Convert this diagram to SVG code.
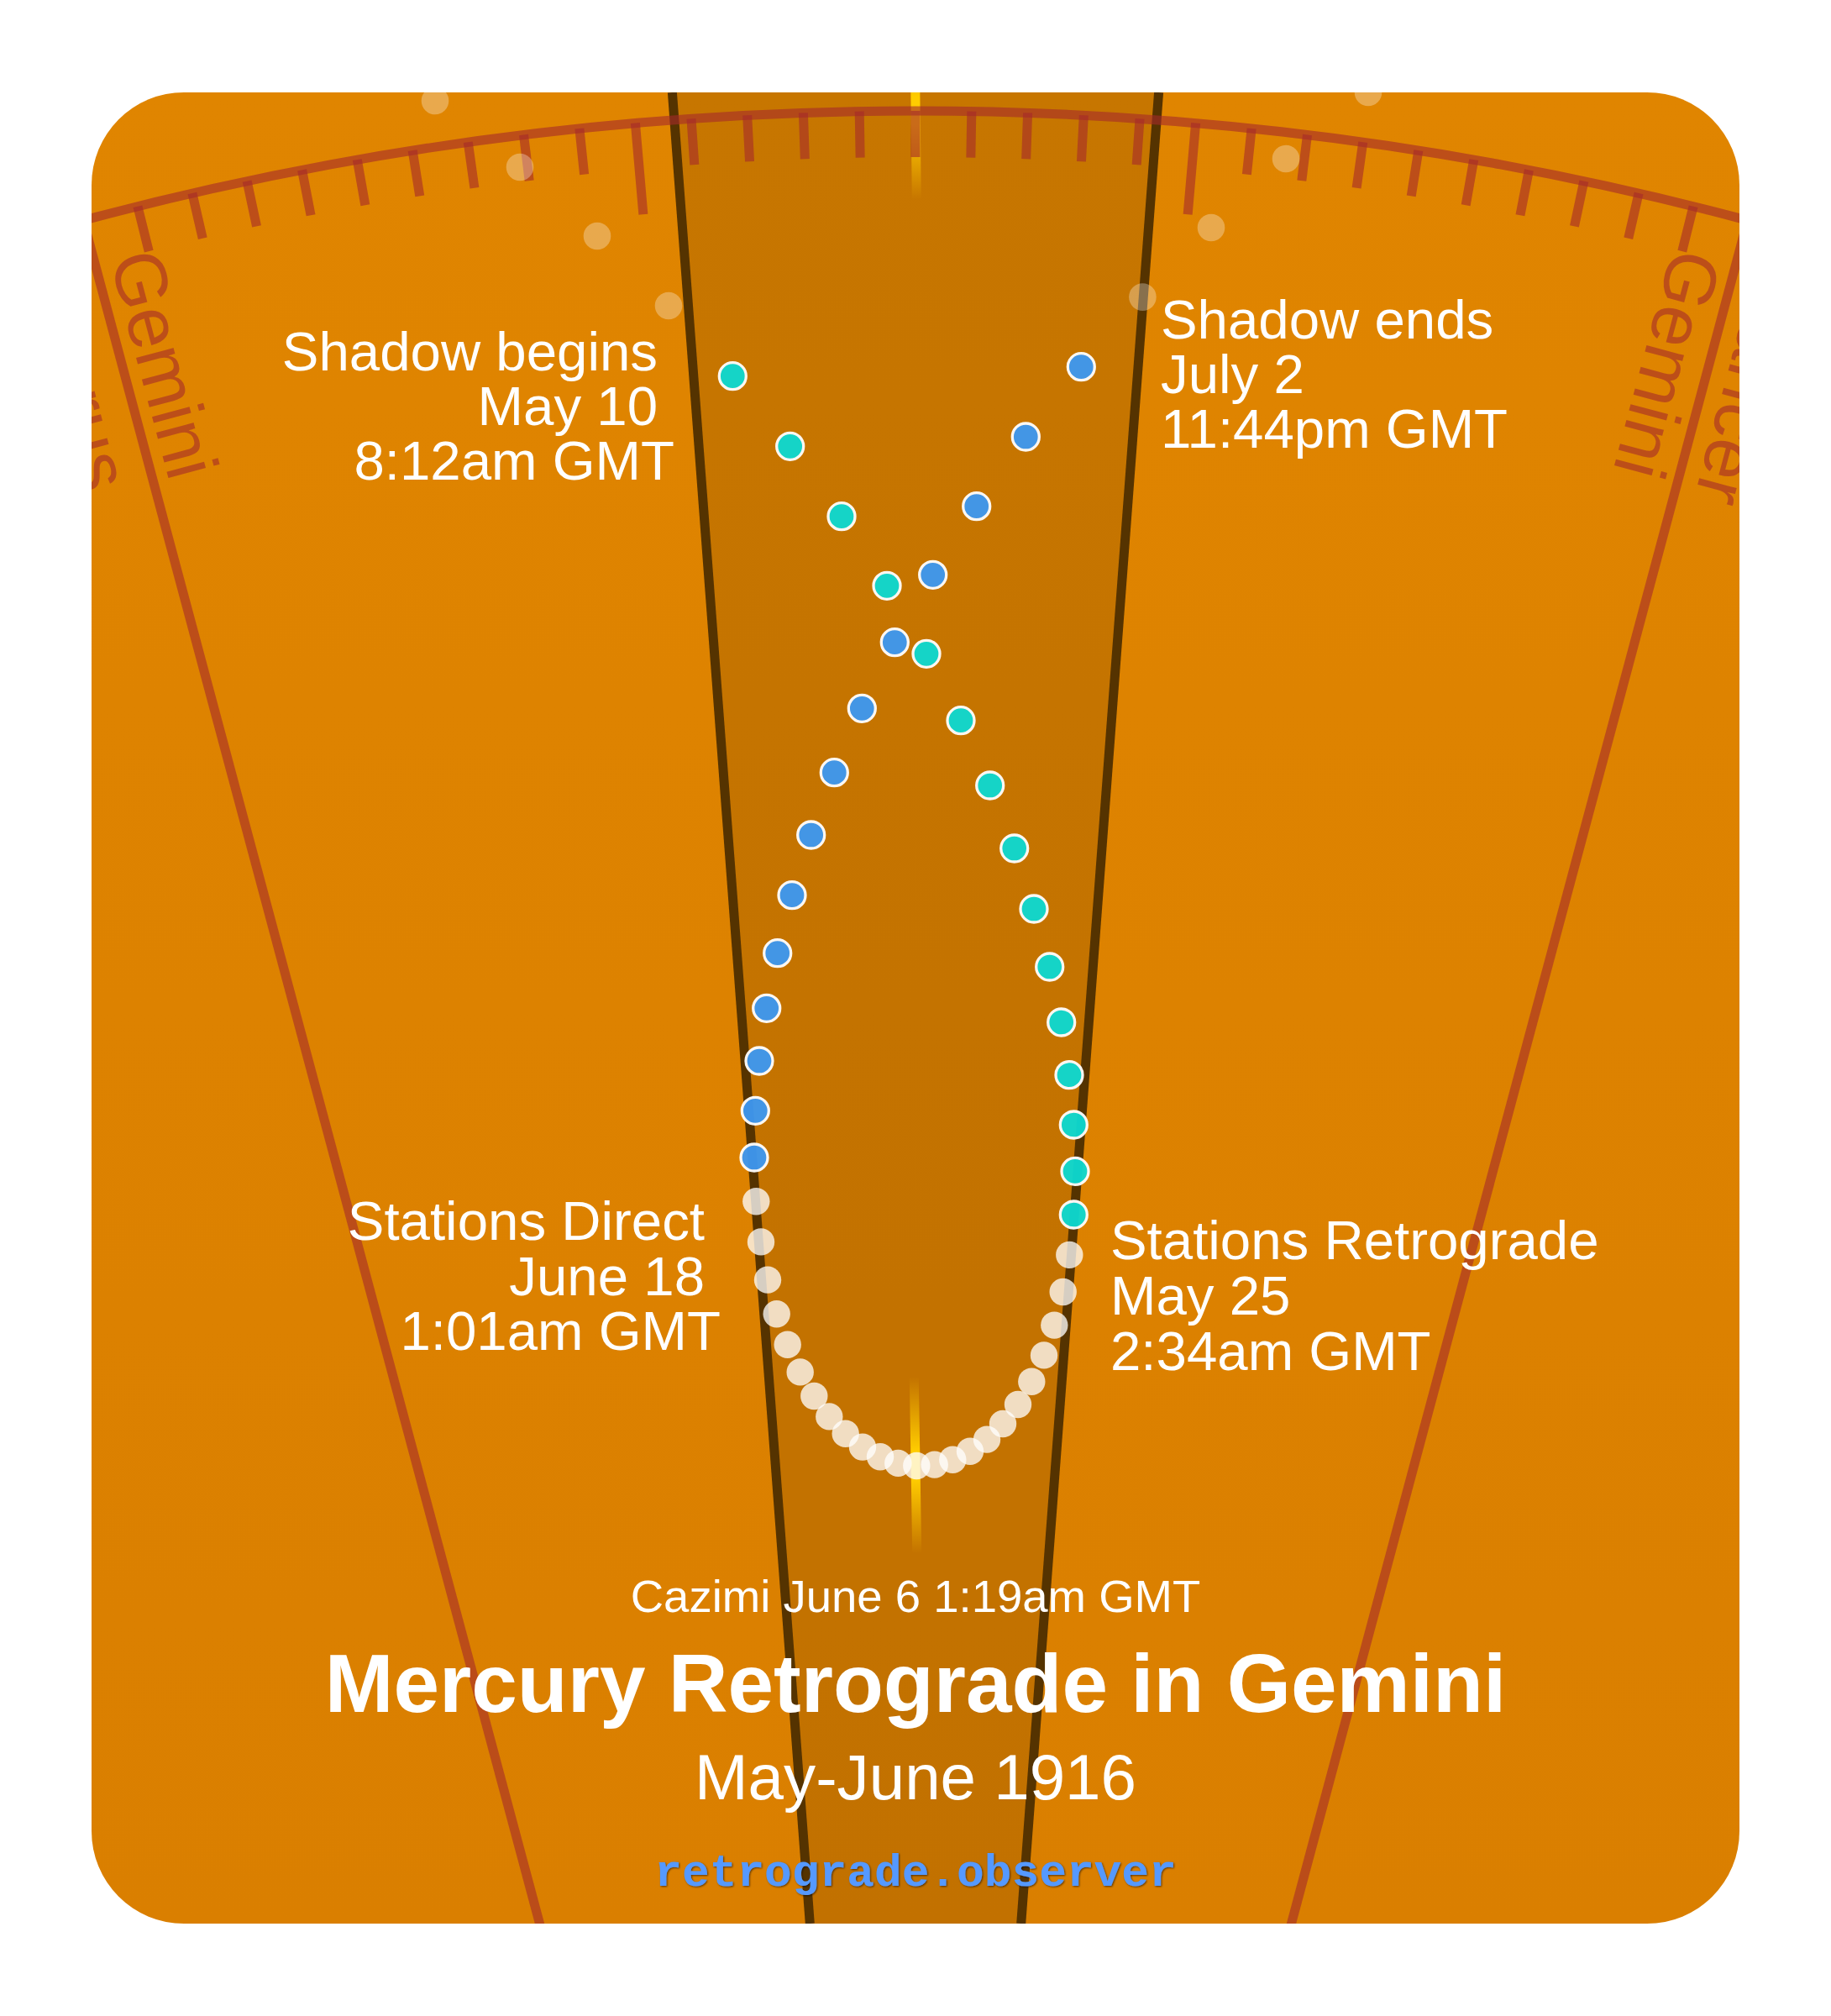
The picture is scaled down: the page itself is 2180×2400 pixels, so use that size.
<svg xmlns="http://www.w3.org/2000/svg" width="2180" height="2400" viewBox="0 0 2180 2400">
<style>
.tick{stroke:#a52a2a;stroke-opacity:.6;stroke-width:11;fill:none}
.ray{stroke:#a52a2a;stroke-opacity:.6;stroke-width:11;fill:none}
.shadow{stroke:#553300;stroke-width:11;fill:none}
.sign{font-family:"Liberation Sans",Arial,sans-serif;font-size:87.2px;fill:#a52a2a;fill-opacity:.6}
.star{fill:#fff;fill-opacity:.3}
.pale{fill:#fff;fill-opacity:.76}
.pre{fill:#0cdad2;stroke:#fff;stroke-width:3.3;opacity:.95}
.post{fill:#3d98f2;stroke:#fff;stroke-width:3.3;opacity:.95}
.lab{font-family:"Liberation Sans",Arial,sans-serif;font-size:65.4px;fill:#fff}
.mid{font-family:"Liberation Sans",Arial,sans-serif;fill:#fff;text-anchor:middle}
.end{text-anchor:end}
</style>
<defs>
<clipPath id="card"><rect x="109" y="110" width="1962" height="2180" rx="110" ry="110"/></clipPath>
<linearGradient id="bg" gradientUnits="userSpaceOnUse" x1="0" y1="110" x2="0" y2="2290">
<stop offset="0" stop-color="#e08500"/><stop offset="1" stop-color="#da7f00"/>
</linearGradient>
<linearGradient id="gTop" gradientUnits="userSpaceOnUse" x1="0" y1="27" x2="0" y2="237">
<stop offset="0" stop-color="#ffcc00" stop-opacity="0"/><stop offset=".42" stop-color="#ffcc00"/><stop offset=".58" stop-color="#ffcc00"/><stop offset="1" stop-color="#ffcc00" stop-opacity="0"/>
</linearGradient>
<linearGradient id="gBot" gradientUnits="userSpaceOnUse" x1="0" y1="1639" x2="0" y2="1849">
<stop offset="0" stop-color="#ffcc00" stop-opacity="0"/><stop offset=".42" stop-color="#ffcc00"/><stop offset=".58" stop-color="#ffcc00"/><stop offset="1" stop-color="#ffcc00" stop-opacity="0"/>
</linearGradient>
<filter id="ds" x="-5%" y="-20%" width="110%" height="140%"><feDropShadow dx="1" dy="1" stdDeviation="1" flood-color="#000" flood-opacity=".6"/></filter>
</defs>
<g clip-path="url(#card)">
<rect x="109" y="110" width="1962" height="2180" fill="url(#bg)"/>
<polygon points="800.4,110 1379.6,110 1215.7,2290 964.3,2290" fill="#000" fill-opacity=".11"/>
<line x1="1088.9" y1="27" x2="1091.3" y2="237" stroke="url(#gTop)" stroke-width="11"/>
<line x1="1088.3" y1="1639" x2="1091.7" y2="1849" stroke="url(#gBot)" stroke-width="11"/>
<g id="shadow-lines">
<line class="shadow" x1="800.4" y1="110" x2="964.3" y2="2290"/>
<line class="shadow" x1="1379.6" y1="110" x2="1215.7" y2="2290"/>
</g>
<circle class="tick" cx="1090" cy="3960" r="3828"/>
<g id="ticks">
<line class="ray" x1="1090" y1="132" x2="1090" y2="3960" transform="rotate(-15 1090 3960)"/>
<line class="ray" x1="1090" y1="132" x2="1090" y2="3960" transform="rotate(15 1090 3960)"/>
<line class="tick" x1="1090" y1="132" x2="1090" y2="187" transform="rotate(-14 1090 3960)"/>
<line class="tick" x1="1090" y1="132" x2="1090" y2="187" transform="rotate(-13 1090 3960)"/>
<line class="tick" x1="1090" y1="132" x2="1090" y2="187" transform="rotate(-12 1090 3960)"/>
<line class="tick" x1="1090" y1="132" x2="1090" y2="187" transform="rotate(-11 1090 3960)"/>
<line class="tick" x1="1090" y1="132" x2="1090" y2="187" transform="rotate(-10 1090 3960)"/>
<line class="tick" x1="1090" y1="132" x2="1090" y2="187" transform="rotate(-9 1090 3960)"/>
<line class="tick" x1="1090" y1="132" x2="1090" y2="187" transform="rotate(-8 1090 3960)"/>
<line class="tick" x1="1090" y1="132" x2="1090" y2="187" transform="rotate(-7 1090 3960)"/>
<line class="tick" x1="1090" y1="132" x2="1090" y2="187" transform="rotate(-6 1090 3960)"/>
<line class="tick" x1="1090" y1="132" x2="1090" y2="241" transform="rotate(-5 1090 3960)"/>
<line class="tick" x1="1090" y1="132" x2="1090" y2="187" transform="rotate(-4 1090 3960)"/>
<line class="tick" x1="1090" y1="132" x2="1090" y2="187" transform="rotate(-3 1090 3960)"/>
<line class="tick" x1="1090" y1="132" x2="1090" y2="187" transform="rotate(-2 1090 3960)"/>
<line class="tick" x1="1090" y1="132" x2="1090" y2="187" transform="rotate(-1 1090 3960)"/>
<line class="tick" x1="1090" y1="132" x2="1090" y2="187"/>
<line class="tick" x1="1090" y1="132" x2="1090" y2="187" transform="rotate(1 1090 3960)"/>
<line class="tick" x1="1090" y1="132" x2="1090" y2="187" transform="rotate(2 1090 3960)"/>
<line class="tick" x1="1090" y1="132" x2="1090" y2="187" transform="rotate(3 1090 3960)"/>
<line class="tick" x1="1090" y1="132" x2="1090" y2="187" transform="rotate(4 1090 3960)"/>
<line class="tick" x1="1090" y1="132" x2="1090" y2="241" transform="rotate(5 1090 3960)"/>
<line class="tick" x1="1090" y1="132" x2="1090" y2="187" transform="rotate(6 1090 3960)"/>
<line class="tick" x1="1090" y1="132" x2="1090" y2="187" transform="rotate(7 1090 3960)"/>
<line class="tick" x1="1090" y1="132" x2="1090" y2="187" transform="rotate(8 1090 3960)"/>
<line class="tick" x1="1090" y1="132" x2="1090" y2="187" transform="rotate(9 1090 3960)"/>
<line class="tick" x1="1090" y1="132" x2="1090" y2="187" transform="rotate(10 1090 3960)"/>
<line class="tick" x1="1090" y1="132" x2="1090" y2="187" transform="rotate(11 1090 3960)"/>
<line class="tick" x1="1090" y1="132" x2="1090" y2="187" transform="rotate(12 1090 3960)"/>
<line class="tick" x1="1090" y1="132" x2="1090" y2="187" transform="rotate(13 1090 3960)"/>
<line class="tick" x1="1090" y1="132" x2="1090" y2="187" transform="rotate(14 1090 3960)"/>
</g>
<g id="signs">
<text class="sign" transform="translate(30 336) rotate(75)">Taurus</text>
<text class="sign" transform="translate(130.5 308) rotate(75)">Gemini</text>
<text class="sign" transform="translate(1992 293) rotate(105)">Gemini</text>
<text class="sign" transform="translate(2090 320) rotate(105)">Cancer</text>
</g>
<g id="stars">
<circle class="star" cx="518" cy="120" r="16.3"/>
<circle class="star" cx="619" cy="199" r="16.3"/>
<circle class="star" cx="711" cy="281" r="16.3"/>
<circle class="star" cx="796" cy="364" r="16.3"/>
<circle class="star" cx="1360.4" cy="353.6" r="16.3"/>
<circle class="star" cx="1442" cy="271" r="16.3"/>
<circle class="star" cx="1531" cy="189" r="16.3"/>
<circle class="star" cx="1629" cy="110" r="16.3"/>
</g>
<g id="pale-dots">
<circle class="pale" cx="900.3" cy="1430.2" r="16.2"/>
<circle class="pale" cx="906" cy="1478.4" r="16.2"/>
<circle class="pale" cx="914" cy="1523.6" r="16.2"/>
<circle class="pale" cx="924.7" cy="1564.2" r="16.2"/>
<circle class="pale" cx="937.7" cy="1600.7" r="16.2"/>
<circle class="pale" cx="952.7" cy="1633.4" r="16.2"/>
<circle class="pale" cx="969.3" cy="1662" r="16.2"/>
<circle class="pale" cx="987.3" cy="1686.4" r="16.2"/>
<circle class="pale" cx="1006.7" cy="1706.8" r="16.2"/>
<circle class="pale" cx="1027" cy="1722.6" r="16.2"/>
<circle class="pale" cx="1048" cy="1734.3" r="16.2"/>
<circle class="pale" cx="1069.3" cy="1741.9" r="16.2"/>
<circle class="pale" cx="1091.3" cy="1745" r="16.2"/>
<circle class="pale" cx="1112.7" cy="1743.6" r="16.2"/>
<circle class="pale" cx="1134.3" cy="1737.7" r="16.2"/>
<circle class="pale" cx="1155" cy="1727.8" r="16.2"/>
<circle class="pale" cx="1175" cy="1713.6" r="16.2"/>
<circle class="pale" cx="1194" cy="1695" r="16.2"/>
<circle class="pale" cx="1212" cy="1672" r="16.2"/>
<circle class="pale" cx="1228.3" cy="1644.8" r="16.2"/>
<circle class="pale" cx="1243" cy="1613.4" r="16.2"/>
<circle class="pale" cx="1255.3" cy="1577.6" r="16.2"/>
<circle class="pale" cx="1265.7" cy="1538" r="16.2"/>
<circle class="pale" cx="1273.3" cy="1493.9" r="16.2"/>
</g>
<g id="pre-dots">
<circle class="pre" cx="872.3" cy="447.7" r="16"/>
<circle class="pre" cx="940.7" cy="531.3" r="16"/>
<circle class="pre" cx="1002" cy="614.7" r="16"/>
<circle class="pre" cx="1056" cy="697.3" r="16"/>
<circle class="pre" cx="1103" cy="778.3" r="16"/>
<circle class="pre" cx="1144" cy="857.7" r="16"/>
<circle class="pre" cx="1178.7" cy="935" r="16"/>
<circle class="pre" cx="1207.7" cy="1010" r="16"/>
<circle class="pre" cx="1231" cy="1082" r="16"/>
<circle class="pre" cx="1249.7" cy="1151" r="16"/>
<circle class="pre" cx="1263.7" cy="1217" r="16"/>
<circle class="pre" cx="1273" cy="1279.7" r="16"/>
<circle class="pre" cx="1278.3" cy="1339" r="16"/>
<circle class="pre" cx="1280" cy="1394.4" r="16"/>
<circle class="pre" cx="1278.3" cy="1446" r="16"/>
</g>
<g id="post-dots">
<circle class="post" cx="1287.3" cy="436.7" r="16"/>
<circle class="post" cx="1221.3" cy="520" r="16"/>
<circle class="post" cx="1162.7" cy="602.7" r="16"/>
<circle class="post" cx="1110.7" cy="684.3" r="16"/>
<circle class="post" cx="1065.3" cy="764.7" r="16"/>
<circle class="post" cx="1026.3" cy="843.3" r="16"/>
<circle class="post" cx="993.3" cy="919.7" r="16"/>
<circle class="post" cx="965.7" cy="994" r="16"/>
<circle class="post" cx="943" cy="1065.7" r="16"/>
<circle class="post" cx="925.7" cy="1134.7" r="16"/>
<circle class="post" cx="912.7" cy="1200.3" r="16"/>
<circle class="post" cx="904" cy="1263" r="16"/>
<circle class="post" cx="899.3" cy="1322.3" r="16"/>
<circle class="post" cx="898" cy="1378" r="16"/>
</g>
</g>
<g id="labels">
<text class="lab end" x="783" y="441">Shadow begins</text>
<text class="lab end" x="783" y="506">May 10</text>
<text class="lab end" x="803" y="571">8:12am GMT</text>
<text class="lab" x="1382" y="403">Shadow ends</text>
<text class="lab" x="1382" y="468">July 2</text>
<text class="lab" x="1382" y="533">11:44pm GMT</text>
<text class="lab end" x="839" y="1476">Stations Direct</text>
<text class="lab end" x="839" y="1542">June 18</text>
<text class="lab end" x="858" y="1607">1:01am GMT</text>
<text class="lab" x="1322" y="1499">Stations Retrograde</text>
<text class="lab" x="1322" y="1565">May 25</text>
<text class="lab" x="1322" y="1631">2:34am GMT</text>
<text class="mid" x="1090" y="1919" font-size="54.5">Cazimi June 6 1:19am GMT</text>
<text class="mid" x="1090" y="2038" font-size="98.1" font-weight="700">Mercury Retrograde in Gemini</text>
<text class="mid" x="1090" y="2142" font-size="76.3">May-June 1916</text>
<text x="1090" y="2245" text-anchor="middle" font-family="'Liberation Mono','Courier New',monospace" font-weight="700" font-size="54.5" fill="#5599ff" filter="url(#ds)">retrograde.observer</text>
</g>
</svg>
